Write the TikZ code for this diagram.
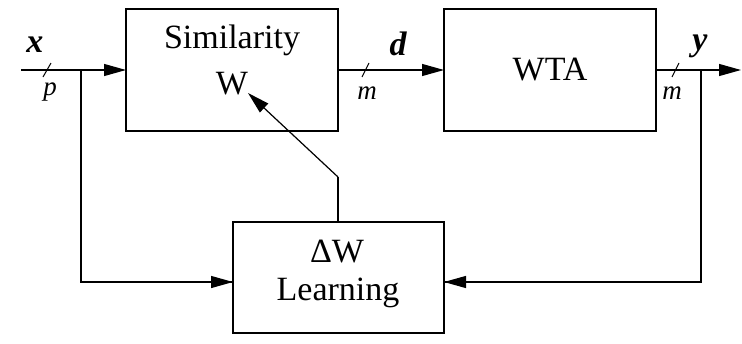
\documentclass[tikz,border=0pt]{standalone}
\usepackage{fontspec}
\setmainfont{Liberation Serif}[Ligatures=TeX]
\newfontfamily\tms{Liberation Serif}
\usetikzlibrary{arrows.meta}
\begin{document}
\begin{tikzpicture}[x=1pt,y=-1pt,
  line width=1.2pt,
  blk/.style={draw,line width=1.2pt,inner sep=0pt,outer sep=0pt},
  txt/.style={inner sep=0pt,font=\tms\fontsize{34}{40}\selectfont},
  vlab/.style={inner sep=0pt,font=\tms\fontsize{34}{40}\selectfont\bfseries\itshape},
  dlab/.style={inner sep=0pt,font=\tms\fontsize{27}{32}\selectfont\itshape},
  arr/.style={-{Triangle[length=22pt,width=12pt]}},
  tick/.style={line width=1pt}]
\useasboundingbox (0,0) rectangle (742,343);
% boxes
\node[blk,minimum width=212pt,minimum height=122pt] (sim) at (232,70) {};
\node[blk,minimum width=212pt,minimum height=122pt] (wta) at (550,70) {};
\node[blk,minimum width=211pt,minimum height=111pt] (lrn) at (338.5,277.5) {};
% box texts
\node[txt] (simt) at (232,40) {Similarity};
\node[txt] (wt) at (232,84) {W};
\node[txt] (wtat) at (550,70) {WTA};
\node[txt] (dw) at (337,252) {ΔW};
\node[txt] (lrnt) at (338,293) {Learning};
% coordinates
\coordinate (in) at (21,70);
\coordinate (b1) at (81,70);
\coordinate (l3) at (233,282);
\coordinate (out) at (741,70);
\coordinate (b2) at (701,70);
\coordinate (r3) at (444,282);
\coordinate (fb) at (338,177);
\coordinate (fbt) at (248,93);
% connectors
\draw[arr] (in) -- (sim.west);
\draw (b1) |- (l3);
\draw[arr] (b1 |- l3) -- (l3);
\draw[arr] (sim.east) -- (wta.west);
\draw[arr] (wta.east) -- (out);
\draw (b2) |- (r3);
\draw[arr] (b2 |- r3) -- (r3);
\draw (lrn.north -| fb) -- (fb);
\draw[arr] (fb) -- (fbt);
% ticks
\draw[tick] (43,77) -- (51,63);
\draw[tick] (362,77) -- (369,63);
\draw[tick] (672,77) -- (679,63);
% labels
\node[vlab] (xl) at (35,45) {x};
\node[dlab] (pl) at (50,92) {p};
\node[vlab] (dl) at (398,44) {d};
\node[dlab] (ml1) at (367,93) {m};
\node[vlab] (yl) at (700,46) {y};
\node[dlab] (ml2) at (672,93) {m};
\end{tikzpicture}
\end{document}
